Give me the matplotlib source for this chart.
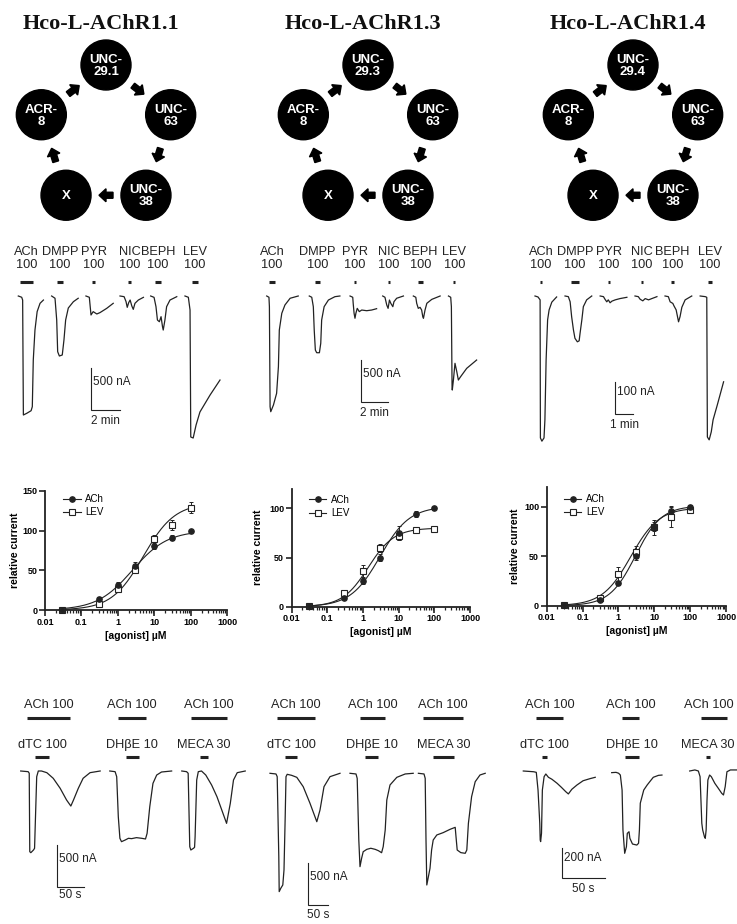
import matplotlib
matplotlib.use("Agg")
import matplotlib.pyplot as plt
import matplotlib.patches as mpatches
from matplotlib.lines import Line2D
from matplotlib.ticker import LogLocator, NullFormatter
from matplotlib.transforms import blended_transform_factory
import numpy as np

plt.rcParams["font.family"] = ["Liberation Sans", "DejaVu Sans"]

W, H = 737, 924
INK = "#222222"

# Receptors and their subunit rings (clockwise from the top)
receptors = ["Hco-L-AChR1.1", "Hco-L-AChR1.3", "Hco-L-AChR1.4"]
ring_11 = ["UNC-\n29.1", "UNC-\n63", "UNC-\n38", "X", "ACR-\n8"]
ring_13 = ["UNC-\n29.3", "UNC-\n63", "UNC-\n38", "X", "ACR-\n8"]
ring_14 = ["UNC-\n29.4", "UNC-\n63", "UNC-\n38", "X", "ACR-\n8"]

# Agonist traces (time s, current nA), one list per drug
top_drugs = ["ACh", "DMPP", "PYR", "NIC", "BEPH", "LEV"]
top_dose = "100"

r11_t = [[0, 14, 18, 21, 35, 53, 58, 62, 69, 78, 90, 104],
         [138, 152, 159, 163, 170, 182, 189, 196, 207, 228, 248],
         [280, 294, 301, 310, 325, 338, 366, 393],
         [421, 438, 446, 451, 457, 463, 470, 476, 483, 497, 518],
         [548, 562, 570, 576, 584, 591, 597, 600, 607, 614, 628, 656],
         [690, 704, 711, 714, 724, 736, 752, 794, 835]]
r11_i = [[0, -15, -48, -1416, -1396, -1365, -1317, -762, -405, -186, -87, -48],
         [0, -27, -286, -663, -714, -702, -524, -286, -143, -68, -27],
         [0, -15, -226, -186, -214, -198, -147, -87],
         [0, -8, -67, -135, -79, -48, -119, -159, -87, -48, -16],
         [0, -16, -127, -286, -306, -246, -365, -405, -286, -127, -48, -8],
         [0, -15, -167, -1678, -1690, -1535, -1380, -1178, -1000]]
r11_apps = [[7, 61], [160, 185], [305, 318], [454, 467], [566, 591], [719, 744]]

r13_t = [[0, 10, 12, 15, 18, 30, 44, 52, 56, 67, 81, 104, 140],
         [189, 200, 207, 211, 216, 222, 234, 240, 244, 255, 274, 303, 325],
         [370, 382, 384, 388, 392, 396, 402, 411, 422, 444, 466, 488],
         [515, 525, 533, 539, 545, 551, 560, 565, 577, 607],
         [651, 662, 666, 673, 681, 688, 693, 696, 703, 711, 733, 770],
         [807, 817, 820, 823, 824, 829, 836, 844, 851, 861, 888, 932]]
r13_i = [[0, -15, -127, -1317, -1377, -1297, -1158, -841, -405, -206, -107, -27, 0],
         [0, -15, -127, -405, -643, -675, -675, -563, -286, -127, -48, -8, 0],
         [0, -15, -87, -206, -265, -206, -147, -186, -167, -175, -167, -151],
         [0, -15, -107, -147, -48, -87, -127, -68, -27, 0],
         [0, -15, -87, -147, -135, -167, -246, -265, -167, -87, -40, 0],
         [0, -15, -127, -1079, -1119, -1000, -801, -901, -1000, -960, -861, -762]]
r13_apps = [[10, 37], [214, 237], [388, 397], [539, 548], [672, 694], [828, 837]]

r14_t = [[0, 10, 17, 18, 23, 30, 33, 37, 42, 47, 56, 72],
         [100, 111, 117, 122, 128, 133, 141, 147, 150, 156, 161, 172, 189],
         [217, 228, 233, 239, 244, 250, 256, 267, 283, 306],
         [333, 344, 350, 359, 367, 378, 389, 406],
         [433, 444, 450, 459, 463, 470, 478, 483, 489, 500, 522],
         [550, 567, 572, 574, 580, 587, 593, 607, 628]]
r14_i = [[0, -3, -12, -440, -450, -440, -384, -198, -74, -43, -19, -3],
         [0, -2, -18, -64, -105, -131, -142, -139, -116, -74, -33, -12, 0],
         [0, -2, -10, -18, -12, -21, -16, -12, -8, -4],
         [0, -2, -10, -15, -8, -12, -8, -2],
         [0, -2, -18, -23, -31, -43, -80, -64, -35, -12, 0],
         [0, -2, -4, -437, -446, -421, -384, -338, -266]]
r14_apps = [[17, 23], [120, 147], [243, 250], [353, 360], [453, 463], [576, 589]]

# Concentration-response (relative current, mean and error)
conc = [0.03, 0.3, 1, 3, 10, 30, 100]
ach_11 = [0.5, 14, 31, 56, 81, 91, 99]
ach_11_err = [1, 3, 4, 4, 4, 3, 1]
lev_11 = [0, 8, 26, 51, 90, 107, 129]
lev_11_err = [1, 2, 3, 4, 4, 6, 7]
ach_13 = [0.7, 9, 26, 50, 75, 94, 100]
ach_13_err = [1, 1, 3, 4, 7, 3, 1]
lev_13 = [0.5, 14, 36, 60, 72, 78, 79]
lev_13_err = [1, 2, 6, 4, 4, 3, 2]
ach_14 = [0.3, 6, 23, 50, 80, 96, 100]
ach_14_err = [1, 1, 2, 4, 5, 5, 2]
lev_14 = [0.3, 8, 32, 54, 79, 90, 97]
lev_14_err = [1, 2, 7, 6, 8, 10, 3]
# Hill fits: [max, EC50 uM, Hill slope]
fit_ach_11 = [100, 2.5, 0.9]
fit_lev_11 = [135, 5.0, 1.0]
fit_ach_13 = [102, 3.0, 1.05]
fit_lev_13 = [80, 1.4, 1.2]
fit_ach_14 = [101, 3.0, 1.2]
fit_lev_14 = [99, 2.2, 1.1]

# Antagonist traces (time s, current nA)
agonist = "ACh 100"
antagonists = ["dTC 100", "DH\u03b2E 10", "MECA 30"]

b11_t = [[0, 14, 16, 17, 19, 24, 26, 27, 30, 33, 39, 49, 61, 74, 86, 94, 99, 108, 117, 130, 149],
         [167, 177, 180, 183, 186, 189, 196, 202, 208, 217, 227, 234, 237, 242, 248, 255, 264, 283],
         [302, 311, 314, 317, 319, 324, 326, 327, 330, 333, 339, 347, 358, 368, 377, 386, 393, 399, 406, 421]]
b11_i = [[0, -8, -27, -960, -972, -940, -920, -702, -68, 0, 0, -20, -87, -206, -345, -417, -345, -206, -87, -20, 0],
         [0, -8, -68, -544, -801, -841, -821, -801, -805, -793, -801, -809, -742, -425, -147, -48, -12, 0],
         [0, -8, -27, -901, -940, -920, -908, -782, -107, -8, 0, -48, -167, -306, -464, -623, -385, -107, -20, 0]]
b11_ach = [[12, 92], [182, 235], [319, 387]]
b11_ant = [[27, 53], [197, 222], [336, 351]]

b13_t = [[0, 15, 18, 22, 23, 27, 32, 35, 38, 40, 43, 54, 67, 83, 100, 117, 125, 135, 150, 175],
         [200, 215, 218, 222, 225, 229, 233, 242, 252, 263, 271, 279, 283, 288, 292, 300, 317, 338, 358],
         [371, 385, 388, 390, 392, 396, 400, 404, 408, 417, 433, 450, 463, 465, 468, 477, 488, 492, 496, 504, 513, 525, 538]]
b13_i = [[0, -8, -40, -992, -1408, -1368, -1329, -1150, -516, -40, -12, -24, -48, -159, -357, -576, -437, -159, -40, 0],
         [0, -8, -60, -794, -1111, -1012, -933, -905, -892, -905, -921, -945, -873, -675, -318, -139, -48, -8, 0],
         [0, -8, -60, -794, -1329, -1230, -1131, -913, -794, -734, -706, -667, -643, -754, -913, -944, -952, -913, -595, -278, -100, -20, 0]]
b13_ach = [[17, 113], [225, 288], [383, 483]]
b13_ant = [[38, 67], [238, 271], [407, 460]]

b14_t = [[0, 12, 15, 17, 19, 19.5, 20, 21, 22, 24, 26, 29, 33, 39, 44, 49, 52, 56, 62, 69, 77, 83],
         [102, 107, 110, 112, 114, 115, 117, 119, 120, 122, 123, 126, 131, 133, 134, 135, 139, 143, 146, 150, 156, 160],
         [192, 198, 202, 204, 205, 206, 207, 209, 210, 211, 212, 213, 215, 217, 221, 225, 229, 231, 233, 235, 239, 247]]
b14_i = [[0, -5, -9, -127, -349, -460, -471, -416, -127, -38, -20, -42, -55, -82, -109, -138, -153, -122, -93, -65, -51, -42],
         [-11, -9, -15, -27, -127, -393, -549, -505, -416, -405, -449, -487, -494, -482, -393, -215, -127, -93, -71, -42, -29, -27],
         [0, 7, 0, -38, -193, -349, -393, -438, -449, -393, -193, -60, -27, -38, -82, -115, -149, -160, -104, -5, 7, 7]]
b14_ach = [[15, 46], [114, 133], [205, 235]]
b14_ant = [[22, 27], [117, 133], [211, 215]]


fig = plt.figure(figsize=(W / 100, H / 100), dpi=100)


def px_axes(left, top, right, bottom):
    ax = fig.add_axes([left / W, 1 - bottom / H, (right - left) / W, (bottom - top) / H])
    ax.patch.set_alpha(0)
    return ax


def trace_axes(box, origin, s_px, na_px):
    left, top, right, bottom = box
    x0, y0 = origin
    ax = px_axes(*box)
    ax.set_xlim((left - x0) * s_px, (right - x0) * s_px)
    ax.set_ylim(-(bottom - y0) * na_px, (y0 - top) * na_px)
    ax.axis("off")
    return ax


def scale_bar(ax, corner, origin, s_px, na_px, amp, dur, amp_txt, dur_txt, gap=11):
    tc = (corner[0] - origin[0]) * s_px
    ic = -(corner[1] - origin[1]) * na_px
    ax.plot([tc, tc, tc + dur], [ic + amp, ic, ic], color=INK, lw=0.8,
            solid_joinstyle="miter", clip_on=False)
    ax.text(tc + 2 * s_px, ic + 0.67 * amp, amp_txt, ha="left", va="center",
            fontsize=8.5, color=INK)
    ax.text(tc + dur / 2, ic - gap * na_px, dur_txt, ha="center", va="center",
            fontsize=8.5, color=INK)


def app_bar(ax, span, py):
    tr = blended_transform_factory(ax.transData, fig.transFigure)
    ax.plot(span, [1 - py / H] * 2, transform=tr, color=INK, lw=2.2,
            solid_capstyle="butt", clip_on=False)


def app_label(ax, span, py, text, shift=0.0):
    tr = blended_transform_factory(ax.transData, fig.transFigure)
    ax.text(sum(span) / 2 + shift, 1 - py / H, text, transform=tr, ha="center",
            va="center", fontsize=9.2, color=INK)


def hill(x, top, ec50, nh):
    return top / (1 + (ec50 / x) ** nh)


# ---- subunit rings ----
canvas = fig.add_axes([0, 0, 1, 1])
canvas.set_xlim(0, W)
canvas.set_ylim(H, 0)
canvas.axis("off")

ring_cx = [106, 368, 633]
ring_cy, rx, ry, rad = 137, 68, 72, 25
for name, ring, cx in zip(receptors, [ring_11, ring_13, ring_14], ring_cx):
    canvas.text(cx - 5, 24, name, ha="center", va="center", fontsize=16,
                fontweight="bold", family="Liberation Serif", color="#111111")
    ang = np.deg2rad(-90 + 72 * np.arange(5))
    xs = cx + rx * np.cos(ang)
    ys = ring_cy + ry * np.sin(ang)
    for k, lab in enumerate(ring):
        canvas.add_patch(mpatches.Circle((xs[k], ys[k]), rad, color="black"))
        canvas.text(xs[k], ys[k] + 1, lab, ha="center", va="center", color="white",
                    fontsize=9.5, fontweight="bold", linespacing=0.95)
        j = (k + 1) % 5
        mx, my = (xs[k] + xs[j]) / 2, (ys[k] + ys[j]) / 2
        ux, uy = xs[j] - xs[k], ys[j] - ys[k]
        n = np.hypot(ux, uy)
        ux, uy = ux / n, uy / n
        canvas.add_patch(mpatches.FancyArrow(mx - 7 * ux, my - 7 * uy, 14 * ux, 14 * uy,
                                             width=6, head_width=13, head_length=7,
                                             length_includes_head=True, color="black"))

# ---- agonist traces ----
top_cfg = [
    ((0, 240, 245, 450), (18.3, 296), 4.14, 11.9, r11_t, r11_i, r11_apps, (91, 410), 500, 120, "500 nA", "2 min"),
    ((245, 240, 490, 450), (266.7, 296), 4.44, 11.9, r13_t, r13_i, r13_apps, (361, 402), 500, 120, "500 nA", "2 min"),
    ((490, 240, 737, 450), (535, 296), 3.33, 3.1, r14_t, r14_i, r14_apps, (615, 414), 100, 60, "100 nA", "1 min"),
]
for box, org, spx, npx, ts, cs, apps, corner, amp, dur, at, dt in top_cfg:
    ax = trace_axes(box, org, spx, npx)
    for t, c in zip(ts, cs):
        ax.plot(t, c, color=INK, lw=0.9)
    for drug, span in zip(top_drugs, apps):
        app_bar(ax, span, 282)
        app_label(ax, span, 252, drug)
        app_label(ax, span, 265, top_dose)
    scale_bar(ax, corner, org, spx, npx, amp, dur, at, dt)

# ---- concentration-response ----
dose_cfg = [
    ((45, 491, 227, 610), 150, [0, 50, 100, 150], ach_11, ach_11_err, lev_11, lev_11_err,
     fit_ach_11, fit_lev_11, -0.165, (0.099, 0.975)),
    ((291.7, 488.7, 470, 606.7), 120, [0, 50, 100], ach_13, ach_13_err, lev_13, lev_13_err,
     fit_ach_13, fit_lev_13, -0.19, (0.097, 0.95)),
    ((546.7, 486.9, 726, 605.7), 120, [0, 50, 100], ach_14, ach_14_err, lev_14, lev_14_err,
     fit_ach_14, fit_lev_14, -0.178, (0.096, 0.94)),
]
xfit = np.logspace(np.log10(conc[0]), np.log10(conc[-1]), 200)
for box, ymax, yt, ach, ache, lev, leve, fa, fl, ylx, legxy in dose_cfg:
    ax = px_axes(*box)
    ax.set_xscale("log")
    ax.set_xlim(0.01, 1000)
    ax.set_ylim(0, ymax)
    ax.plot(xfit, hill(xfit, *fa), color=INK, lw=0.8)
    ax.plot(xfit, hill(xfit, *fl), color=INK, lw=0.8)
    ax.errorbar(conc, ach, yerr=ache, fmt="none", ecolor=INK, elinewidth=0.7,
                capsize=1.5, capthick=0.7, clip_on=False)
    ax.errorbar(conc, lev, yerr=leve, fmt="none", ecolor=INK, elinewidth=0.7,
                capsize=1.5, capthick=0.7, clip_on=False)
    ax.plot(conc, lev, "s", ms=4.5, mfc="white", mec=INK, mew=0.8, clip_on=False, zorder=3)
    ax.plot(conc, ach, "o", ms=3.8, color=INK, clip_on=False, zorder=4)
    for s in ("top", "right"):
        ax.spines[s].set_visible(False)
    for s in ("left", "bottom"):
        ax.spines[s].set_linewidth(1.3)
        ax.spines[s].set_color(INK)
    ax.set_xticks([0.01, 0.1, 1, 10, 100, 1000])
    ax.set_xticklabels(["0.01", "0.1", "1", "10", "100", "1000"])
    ax.xaxis.set_minor_locator(LogLocator(base=10, subs=np.arange(2, 10), numticks=20))
    ax.xaxis.set_minor_formatter(NullFormatter())
    ax.set_yticks(yt)
    ax.tick_params(which="major", length=4, width=1.2, color=INK, labelsize=6.5, pad=1.5)
    ax.tick_params(which="minor", length=2.5, width=0.9, color=INK)
    for lab in ax.get_xticklabels() + ax.get_yticklabels():
        lab.set_fontweight("bold")
    ax.set_ylabel("relative current", fontsize=7.5, fontweight="bold", va="center")
    ax.yaxis.set_label_coords(ylx, 0.5)
    ax.set_xlabel("[agonist] \u00b5M", fontsize=7.5, fontweight="bold", va="center")
    ax.xaxis.set_label_coords(0.5, -0.215)
    handles = [Line2D([], [], color=INK, lw=0.8, marker="o", ms=3.8),
               Line2D([], [], color=INK, lw=0.8, marker="s", ms=4.5, mfc="white", mew=0.8)]
    ax.legend(handles, ["ACh", "LEV"], loc="upper left", bbox_to_anchor=legxy, frameon=False,
              fontsize=7, handlelength=1.8, handletextpad=0.5, labelspacing=0.35,
              borderpad=0, borderaxespad=0)

# ---- antagonist traces ----
bot_cfg = [
    ((0, 690, 248, 924), (20.7, 771), 1.875, 11.9, b11_t, b11_i, b11_ach, b11_ant,
     (57, 887), 500, "500 nA", 8, [0, 0, 0]),
    ((248, 690, 490, 924), (270, 773.3), 2.5, 11.9, b13_t, b13_i, b13_ach, b13_ant,
     (308.3, 905), 500, "500 nA", 10, [0, 0, 0]),
    ((490, 690, 737, 924), (523.3, 771), 1.154, 6.67, b14_t, b14_i, b14_ach, b14_ant,
     (561.7, 878.3), 200, "200 nA", 11, [0, 0, -5]),
]
for box, org, spx, npx, ts, cs, ach_apps, ant_apps, corner, amp, at, gap, nudge in bot_cfg:
    ax = trace_axes(box, org, spx, npx)
    for t, c in zip(ts, cs):
        ax.plot(t, c, color=INK, lw=0.9)
    for name, sa, sb, nd in zip(antagonists, ach_apps, ant_apps, nudge):
        app_bar(ax, sa, 718)
        app_label(ax, sa, 705, agonist, nd * spx)
        app_bar(ax, sb, 757)
        app_label(ax, sb, 745, name)
    scale_bar(ax, corner, org, spx, npx, amp, 50, at, "50 s", gap)

fig.savefig("out.png", dpi=100)
plt.close(fig)
